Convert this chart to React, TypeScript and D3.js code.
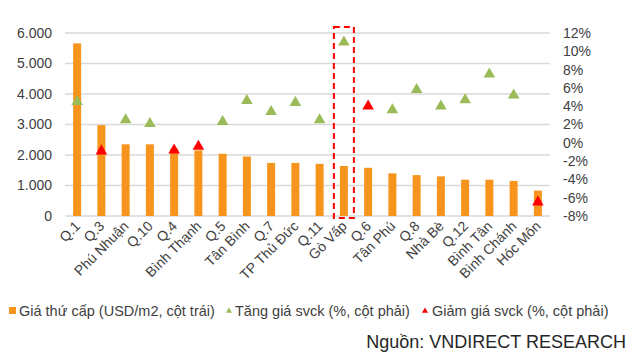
import React from "react";
import * as d3 from "d3";

const categories = ["Q.1", "Q.3", "Phú Nhuận", "Q.10", "Q.4", "Bình Thạnh", "Q.5", "Tân Bình", "Q.7", "TP Thủ Đức", "Q.11", "Gò Vấp", "Q.6", "Tân Phú", "Q.8", "Nhà Bè", "Q.12", "Bình Tân", "Bình Chánh", "Hóc Môn"];
const prices = [5660, 2980, 2350, 2350, 2200, 2150, 2040, 1950, 1740, 1740, 1710, 1640, 1580, 1400, 1340, 1300, 1190, 1190, 1150, 830];
const changes = [4.5, -0.9, 2.5, 2.1, -0.8, -0.4, 2.3, 4.6, 3.4, 4.4, 2.5, 11.0, 4.0, 3.6, 5.8, 4.0, 4.7, 7.5, 5.2, -6.5];
const isDecrease = [false, true, false, false, true, true, false, false, false, false, false, false, true, false, false, false, false, false, false, true];
const leftTicks = [0, 1000, 2000, 3000, 4000, 5000, 6000];
const rightTicks = [-8, -6, -4, -2, 0, 2, 4, 6, 8, 10, 12];
const highlighted = "Gò Vấp";
const legendLabels = ["Giá thứ cấp (USD/m2, cột trái)", "Tăng giá svck (%, cột phải)", "Giảm giá svck (%, cột phải)"];
const sourceText = "Nguồn: VNDIRECT RESEARCH";

const ORANGE = "#F7941D";
const GREEN = "#9BBB59";
const RED = "#FF0000";
const TEXT = "#404040";
const FONT = "'Liberation Sans', Arial, sans-serif";

export default function App() {
  const W = 640, H = 360;
  const x = d3.scaleBand<string>().domain(categories).range([65, 550]).padding(0);
  const yL = d3.scaleLinear().domain([0, 6000]).range([216, 33]);
  const yR = d3.scaleLinear().domain([-8, 12]).range([216, 33]);
  const fmt = (v: number) => (v === 0 ? "0" : d3.format(",")(v).replace(/,/g, "."));
  const bw = 8;
  const tri = d3.symbol().type(d3.symbolTriangle).size(58);
  const triSmall = d3.symbol().type(d3.symbolTriangle).size(16);
  const cx = (c: string) => (x(c) as number) + x.bandwidth() / 2;

  return (
    <svg width={W} height={H} style={{ position: "absolute", left: 0, top: 0, background: "#fff" }} fontFamily={FONT}>
      <rect x={0} y={0} width={W} height={H} fill="#fff" />
      {leftTicks.map((t) => (
        <g key={t}>
          <line x1={65} x2={550} y1={yL(t)} y2={yL(t)} stroke="#d9d9d9" strokeWidth={1.5} />
          <text x={52} y={yL(t)} dy="0.35em" textAnchor="end" fontSize={14} fill={TEXT}>{fmt(t)}</text>
        </g>
      ))}
      {rightTicks.map((t) => (
        <text key={t} x={563} y={yR(t)} dy="0.35em" textAnchor="start" fontSize={14} fill={TEXT}>{t + "%"}</text>
      ))}
      {categories.map((c, i) => (
        <rect key={c} x={cx(c) - bw / 2} y={yL(prices[i])} width={bw} height={yL(0) - yL(prices[i])} fill={ORANGE} />
      ))}
      {categories.map((c, i) => (
        <path key={c} d={tri() as string} transform={`translate(${cx(c)},${yR(changes[i])})`} fill={isDecrease[i] ? RED : GREEN} />
      ))}
      <rect x={cx(highlighted) - 10} y={27} width={20} height={191} fill="none" stroke={RED} strokeWidth={2} strokeDasharray="6,4" />
      {categories.map((c) => (
        <text key={c} transform={`translate(${cx(c) + 4},${227}) rotate(-45)`} textAnchor="end" fontSize={14} fill={TEXT}>{c}</text>
      ))}
      <rect x={9} y={307} width={7} height={7} fill={ORANGE} />
      <text x={19} y={316} fontSize={14.5} fill={TEXT}>{legendLabels[0]}</text>
      <path d={triSmall() as string} transform="translate(229,311)" fill={GREEN} />
      <text x={235} y={316} fontSize={14.5} fill={TEXT}>{legendLabels[1]}</text>
      <path d={triSmall() as string} transform="translate(425,311)" fill={RED} />
      <text x={432} y={316} fontSize={14.5} fill={TEXT}>{legendLabels[2]}</text>
      <text x={626} y={348} textAnchor="end" fontSize={18} fill="#262626">{sourceText}</text>
    </svg>
  );
}
